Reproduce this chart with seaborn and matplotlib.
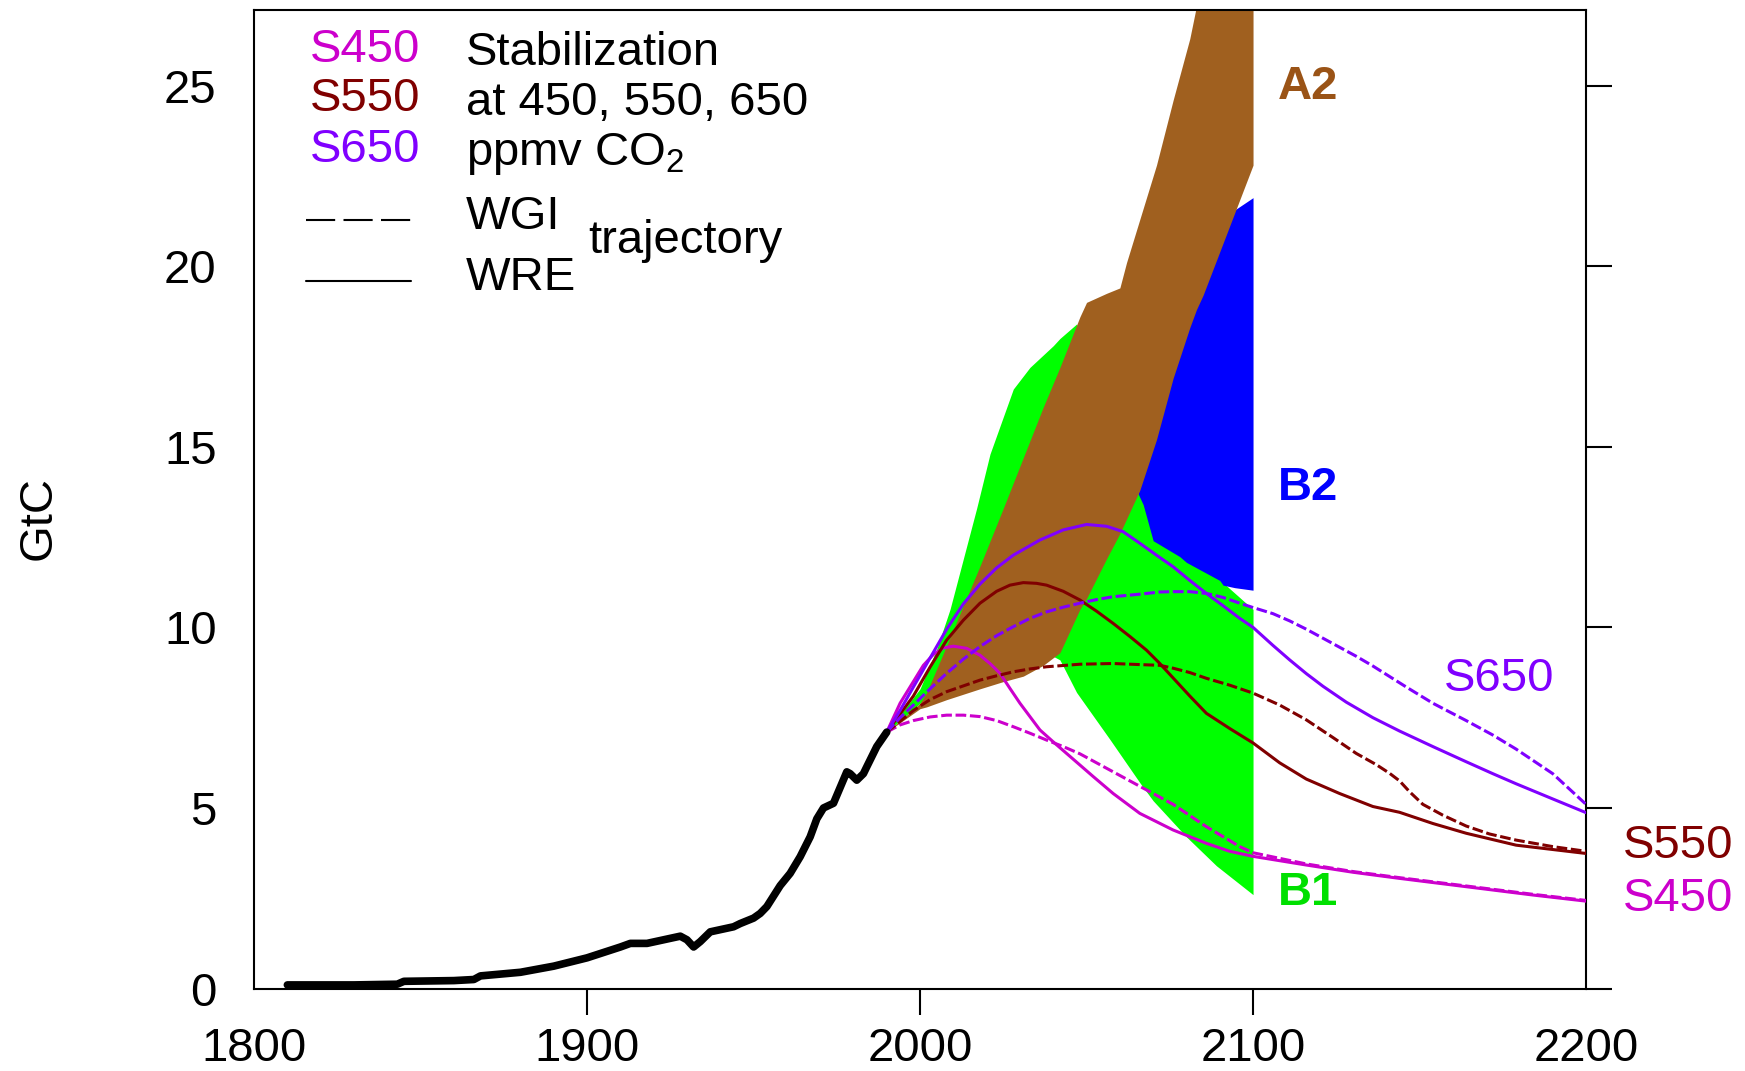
import matplotlib
matplotlib.use("Agg")
import matplotlib.pyplot as plt
import seaborn as sns

# historical fossil CO2 emissions (GtC)
hist_years = [1810, 1820, 1830, 1843, 1845, 1860, 1866, 1868, 1880, 1890, 1900, 1905,
              1910, 1913, 1918, 1923, 1928, 1930, 1932, 1934, 1937, 1941, 1944, 1946,
              1950, 1952, 1954, 1958, 1961, 1964, 1967, 1969, 1971, 1974, 1978, 1979,
              1981, 1983, 1984, 1987, 1990]
hist_gtc = [0.1, 0.1, 0.1, 0.12, 0.2, 0.22, 0.25, 0.35, 0.45, 0.62, 0.85, 1.0,
            1.15, 1.25, 1.25, 1.35, 1.45, 1.35, 1.15, 1.3, 1.57, 1.65, 1.71, 1.8,
            1.95, 2.08, 2.27, 2.85, 3.19, 3.65, 4.2, 4.7, 5.0, 5.13, 6.0, 5.95,
            5.77, 5.95, 6.14, 6.7, 7.1]

# SRES scenario ranges
b1_years = [1990, 2000, 2005, 2009, 2013, 2017, 2021, 2028, 2033, 2040, 2042, 2047,
            2057, 2066, 2070, 2077, 2080, 2089, 2100]
b1_low = [7.1, 7.9, 8.1, 8.3, 8.4, 8.5, 8.6, 8.8, 9.0, 9.2, 9.1, 8.2,
          6.9, 5.7, 5.2, 4.5, 4.2, 3.4, 2.6]
b1_high = [7.1, 8.3, 9.4, 10.5, 11.9, 13.3, 14.8, 16.6, 17.2, 17.8, 18.0, 18.4,
           16.5, 14.0, 13.3, 12.5, 12.2, 11.4, 10.5]

b2_years = [2065.5, 2067, 2070, 2078, 2080, 2088, 2090, 2091, 2094.5, 2100]
b2_low = [13.7, 13.4, 12.4, 11.96, 11.8, 11.4, 11.3, 11.17, 11.1, 11.03]
b2_high = [13.7, 14.3, 15.5, 18.0, 18.6, 20.6, 21.0, 21.2, 21.56, 21.9]

a2_years = [1990, 2000, 2002, 2008, 2013, 2018, 2025, 2031, 2037, 2042, 2045, 2048,
            2050, 2056, 2060, 2062, 2066, 2071, 2076, 2081, 2083, 2085, 2090, 2095, 2100]
a2_low = [7.1, 7.75, 7.8, 8.0, 8.15, 8.3, 8.5, 8.65, 8.95, 9.3, 9.9, 10.5,
          10.8, 11.9, 12.6, 13.0, 13.8, 15.2, 16.9, 18.3, 18.8, 19.2, 20.4, 21.6, 22.8]
a2_high = [7.1, 7.9, 8.2, 9.5, 10.6, 11.7, 13.3, 14.7, 16.1, 17.2, 17.9, 18.6,
           19.0, 19.25, 19.4, 20.1, 21.3, 22.8, 24.6, 26.3, 27.2, 27.8, 29.6, 31.4, 33.2]

# stabilization trajectories (WRE solid, WGI dashed)
s450_wre_years = [1990, 1994, 1998, 2001, 2004, 2007, 2010, 2014, 2018, 2021, 2024, 2027,
                  2030, 2033, 2036, 2040, 2044, 2048, 2052, 2058, 2066, 2076, 2086, 2093,
                  2100, 2116, 2130, 2144, 2164, 2184, 2200]
s450_wre = [7.1, 7.9, 8.5, 8.95, 9.25, 9.43, 9.48, 9.42, 9.23, 9.0, 8.73, 8.31,
            7.9, 7.53, 7.16, 6.83, 6.51, 6.19, 5.87, 5.4, 4.85, 4.39, 4.02, 3.8,
            3.66, 3.42, 3.22, 3.05, 2.82, 2.59, 2.42]
s450_wgi_years = [1990, 1994, 1998, 2003, 2008, 2013, 2018, 2023, 2028, 2033, 2038, 2043,
                  2048, 2053, 2058, 2066, 2076, 2086, 2096, 2100, 2116, 2130, 2144, 2164,
                  2184, 2200]
s450_wgi = [7.1, 7.3, 7.42, 7.52, 7.57, 7.57, 7.53, 7.42, 7.25, 7.07, 6.88, 6.7,
            6.5, 6.25, 6.0, 5.6, 5.1, 4.48, 3.93, 3.76, 3.45, 3.24, 3.07, 2.84,
            2.61, 2.44]

s550_wre_years = [1990, 1994, 1998, 2003, 2008, 2013, 2018, 2023, 2027, 2031, 2035, 2038,
                  2043, 2048, 2053, 2058, 2063, 2068, 2072, 2076, 2081, 2086, 2093, 2100,
                  2108, 2116, 2126, 2136, 2144, 2154, 2164, 2179, 2200]
s550_wre = [7.1, 7.6, 8.1, 8.9, 9.65, 10.2, 10.67, 11.0, 11.17, 11.24, 11.22, 11.17,
            11.0, 10.76, 10.45, 10.11, 9.75, 9.37, 9.0, 8.6, 8.1, 7.62, 7.2, 6.8,
            6.25, 5.8, 5.4, 5.04, 4.88, 4.57, 4.3, 3.97, 3.74]
s550_wgi_years = [1990, 1994, 1998, 2003, 2008, 2013, 2018, 2023, 2028, 2033, 2038, 2048,
                  2058, 2066, 2072, 2076, 2081, 2086, 2093, 2100, 2108, 2116, 2124, 2131,
                  2137, 2141, 2144, 2147, 2151, 2157, 2164, 2171, 2179, 2190, 2200]
s550_wgi = [7.1, 7.4, 7.7, 8.0, 8.22, 8.38, 8.54, 8.66, 8.77, 8.85, 8.91, 8.98,
            9.0, 8.97, 8.95, 8.87, 8.75, 8.59, 8.4, 8.18, 7.85, 7.44, 6.95, 6.51,
            6.2, 5.96, 5.75, 5.45, 5.1, 4.8, 4.5, 4.28, 4.11, 3.93, 3.8]

s650_wre_years = [1990, 1994, 1998, 2003, 2008, 2013, 2018, 2023, 2028, 2036, 2043, 2050,
                  2056, 2061, 2066, 2071, 2076, 2081, 2086, 2091, 2096, 2100, 2106, 2111,
                  2116, 2121, 2128, 2136, 2144, 2154, 2164, 2172, 2179, 2190, 2200]
s650_wre = [7.1, 7.7, 8.35, 9.15, 9.95, 10.65, 11.2, 11.65, 12.0, 12.42, 12.7, 12.85,
            12.8, 12.65, 12.33, 12.0, 11.68, 11.3, 10.94, 10.6, 10.25, 10.0, 9.5, 9.1,
            8.72, 8.37, 7.93, 7.5, 7.13, 6.7, 6.28, 5.95, 5.67, 5.25, 4.87]
s650_wgi_years = [1990, 1994, 1998, 2003, 2008, 2013, 2018, 2023, 2028, 2033, 2038, 2043,
                  2048, 2053, 2058, 2066, 2072, 2076, 2081, 2086, 2091, 2096, 2100, 2106,
                  2111, 2116, 2121, 2126, 2131, 2136, 2141, 2146, 2154, 2164, 2172, 2179,
                  2190, 2200]
s650_wgi = [7.1, 7.5, 7.85, 8.3, 8.73, 9.12, 9.47, 9.77, 10.02, 10.25, 10.43, 10.56,
            10.67, 10.77, 10.85, 10.92, 10.98, 10.99, 10.99, 10.94, 10.83, 10.67, 10.55, 10.38,
            10.18, 9.95, 9.7, 9.45, 9.2, 8.93, 8.64, 8.35, 7.9, 7.42, 7.02, 6.63,
            5.95, 5.1]

c450 = '#CC00CC'
c550 = '#800000'
c650 = '#8000FF'

sns.set_theme(style="white")
plt.rcParams['font.family'] = ['Liberation Sans', 'DejaVu Sans']
plt.rcParams['mathtext.fontset'] = 'custom'
plt.rcParams['mathtext.rm'] = 'Liberation Sans'
plt.rcParams['text.color'] = 'black'

fs = 34
fig = plt.figure(figsize=(17.45, 10.71), dpi=100)
ax = fig.add_axes([0.1456, 0.0770, 0.7633, 0.9138])

# ranges: green under blue under brown
ax.fill_between(b1_years, b1_low, b1_high, color='#00FF00', lw=0, zorder=1)
ax.fill_between(b2_years, b2_low, b2_high, color='#0000FF', lw=0, zorder=1.1)
ax.fill_between(a2_years, a2_low, a2_high, color='#A0601F', lw=0, zorder=1.2)

dash = (0, (3.5, 1.2))
curves = [
    (s450_wgi_years, s450_wgi, c450, dash),
    (s450_wre_years, s450_wre, c450, '-'),
    (s550_wgi_years, s550_wgi, c550, dash),
    (s550_wre_years, s550_wre, c550, '-'),
    (s650_wgi_years, s650_wgi, c650, dash),
    (s650_wre_years, s650_wre, c650, '-'),
]
for yrs, vals, col, ls in curves:
    sns.lineplot(x=yrs, y=vals, ax=ax, color=col, lw=2.2, linestyle=ls,
                 errorbar=None, zorder=3)

sns.lineplot(x=hist_years, y=hist_gtc, ax=ax, color='black', lw=5.5,
             errorbar=None, zorder=4)

ax.set_xlim(1800, 2200)
ax.set_ylim(0, 27.1)
ax.set_xticks([1800, 1900, 2000, 2100, 2200])
ax.set_yticks([0, 5, 10, 15, 20, 25])
ax.tick_params(axis='both', direction='out', length=19, width=1.5,
               labelsize=fs, pad=8, colors='black')
ax.tick_params(axis='y', right=True, labelright=False)
ax.tick_params(axis='x', bottom=True, pad=9)
xt = ax.xaxis.get_major_ticks()
xt[0].tick1line.set_visible(False)
xt[-1].tick1line.set_visible(False)
for s in ax.spines.values():
    s.set_color('black')
    s.set_linewidth(1.5)
ax.set_xlabel('')
ax.set_ylabel('')
ax.text(-0.1614, 0.481, 'GtC', transform=ax.transAxes, rotation=90,
        ha='center', va='center', fontsize=fs)

# key in the upper left
ax.text(1816.7, 26.0, 'S450', color=c450, fontsize=fs, va='center')
ax.text(1816.7, 24.62, 'S550', color=c550, fontsize=fs, va='center')
ax.text(1816.7, 23.23, 'S650', color=c650, fontsize=fs, va='center')
ax.text(1863.5, 25.9, 'Stabilization', fontsize=fs, va='center')
ax.text(1863.5, 24.52, 'at 450, 550, 650', fontsize=fs, va='center')
ax.text(1863.5, 23.1, 'ppmv CO$_2$', fontsize=fs, va='center')
ax.plot([1815.6, 1847.1], [21.28, 21.28], color='black', lw=1.5,
        linestyle=(0, (14, 4)))
ax.plot([1815.6, 1847.1], [19.59, 19.59], color='black', lw=1.5)
ax.text(1863.5, 21.36, 'WGI', fontsize=fs, va='center')
ax.text(1863.5, 19.67, 'WRE', fontsize=fs, va='center')
ax.text(1900.3, 20.7, 'trajectory', fontsize=fs, va='center')

# curve and range labels
ax.text(2157.2, 8.57, 'S650', color=c650, fontsize=fs, va='center')
ax.text(2211.0, 3.95, 'S550', color=c550, fontsize=fs, va='center')
ax.text(2211.0, 2.47, 'S450', color=c450, fontsize=fs, va='center')
ax.text(2107.4, 24.97, 'A2', color='#9A5316', fontsize=fs, va='center',
        fontweight='bold')
ax.text(2107.4, 13.87, 'B2', color='#0000FF', fontsize=fs, va='center',
        fontweight='bold')
ax.text(2107.4, 2.65, 'B1', color='#00E000', fontsize=fs, va='center',
        fontweight='bold')

fig.savefig('out.png', dpi=100)
